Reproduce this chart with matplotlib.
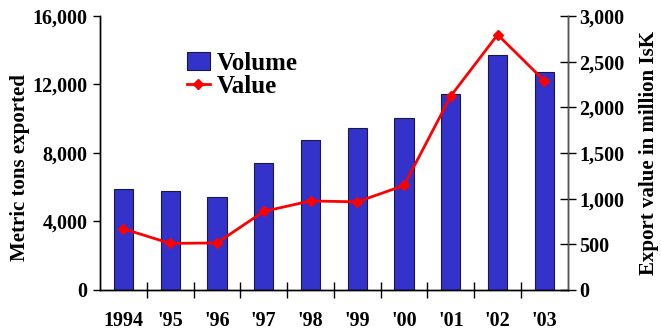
import matplotlib.pyplot as plt
import numpy as np
from matplotlib.ticker import FuncFormatter, FixedLocator

years = ['1994', "'95", "'96", "'97", "'98", "'99", "'00", "'01", "'02", "'03"]
volume = [5900, 5800, 5450, 7400, 8750, 9450, 10050, 11450, 13700, 12750]
value = [670, 510, 515, 860, 975, 965, 1145, 2125, 2795, 2290]

plt.rcParams['font.family'] = ['Liberation Serif', 'DejaVu Serif']
plt.rcParams['font.weight'] = 'bold'
plt.rcParams['axes.labelweight'] = 'bold'

fig = plt.figure(figsize=(6.61, 3.31), dpi=100)
ax = fig.add_axes([0.1513, 0.1239, 0.7077, 0.8278])
ax2 = ax.twinx()

pos = np.arange(len(years))
bars = ax.bar(pos, volume, width=0.41, color='#3333CC', edgecolor='#1a1a40',
              linewidth=0.8, label='Volume', zorder=2)
line, = ax2.plot(pos, value, color='#FF0000', lw=2, marker='D', ms=5,
                 label='Value', zorder=3)

ax.set_xlim(-0.5, 9.5)
ax.set_ylim(0, 16000)
ax2.set_ylim(0, 3000)
ax.set_yticks([0, 4000, 8000, 12000, 16000])
ax2.set_yticks(range(0, 3001, 500))
comma = FuncFormatter(lambda v, p: f'{int(v):,}')
ax.yaxis.set_major_formatter(comma)
ax2.yaxis.set_major_formatter(comma)

ax.set_xticks(pos)
ax.set_xticklabels(years)
ax.xaxis.set_minor_locator(FixedLocator(np.arange(0.5, 9.5, 1)))
ax.tick_params(axis='x', which='major', length=0, pad=15, labelsize=14.5)
ax.tick_params(axis='x', which='minor', direction='inout', length=12, width=1)
ax.tick_params(axis='y', direction='out', length=5, width=1, labelsize=14.5, pad=4)
ax2.tick_params(axis='y', direction='inout', length=12, width=1, labelsize=14.5, pad=2)

for a in (ax, ax2):
    a.spines['top'].set_visible(False)
    for s in a.spines.values():
        s.set_linewidth(1)
ax2.spines['right'].set_color('#555555')

ax.set_ylabel('Metric tons exported', fontsize=15, va='center')
ax.yaxis.set_label_coords(-0.171, 0.445)
ax2.set_ylabel('Export value in million IsK', fontsize=15, va='center')
ax2.yaxis.set_label_coords(1.174, 0.5)

fig.legend([bars, line], ['Volume', 'Value'], loc='upper left',
           bbox_to_anchor=(0.264, 0.882), frameon=False, fontsize=18,
           handlelength=0.9, handletextpad=0.3, labelspacing=0.0,
           borderpad=0)

fig.savefig('out.png', dpi=100)
